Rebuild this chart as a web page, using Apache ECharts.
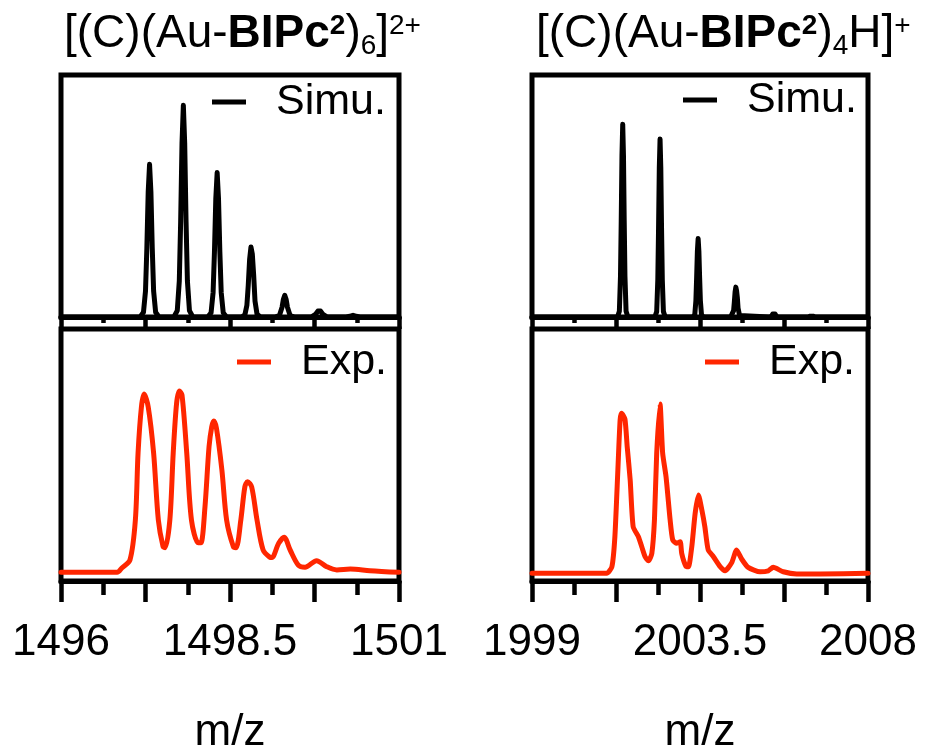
<!DOCTYPE html>
<html>
<head>
<meta charset="utf-8">
<script src="https://cdn.jsdelivr.net/npm/echarts@6/dist/echarts.min.js"></script>
<style>
html,body{margin:0;padding:0;background:#fff;}
#chart{width:925px;height:751px;}
</style>
</head>
<body>
<div id="chart"></div>
<script>
// ---------- data ----------
// Left: [(C)(Au-BIPc2)6]2+  (simulated)
const simLeftMz = [1496.00,
  1497.17,1497.22,1497.25,1497.27,1497.29,1497.31,1497.33,1497.35,1497.37,1497.40,1497.45,
  1497.67,1497.72,1497.75,1497.77,1497.79,1497.81,1497.83,1497.85,1497.87,1497.90,1497.95,
  1498.17,1498.22,1498.25,1498.27,1498.29,1498.31,1498.33,1498.35,1498.37,1498.40,1498.45,
  1498.67,1498.72,1498.75,1498.77,1498.79,1498.81,1498.83,1498.85,1498.87,1498.90,1498.95,
  1499.17,1499.23,1499.27,1499.29,1499.31,1499.33,1499.35,1499.39,1499.45,
  1499.70,1499.77,1499.80,1499.82,1499.84,1499.87,1499.94,
  1500.22,1500.29,1500.32,1500.35,1500.42,
  1501.00];
const simLeftInt = [0,
  0,2.2,12.3,32.4,59.1,72.1,59.1,32.4,12.3,2.2,0,
  0,3,17,45,82,100,82,45,17,3,0,
  0,2,11.6,30.7,55.9,68.2,55.9,30.7,11.6,2,0,
  0,1,5.6,14.9,27.1,33.1,29.8,19.9,7.5,1.3,0,
  0,0.6,4.6,8.4,10.2,8.4,4.6,0.6,0,
  0,1.4,2.8,3.2,2.8,1.4,0,
  0,0.5,0.8,0.5,0,
  0];
// Left: experimental
const expLeftMz = [1496.00,1496.83,1496.90,1497.02,1497.10,1497.14,1497.19,1497.23,1497.29,1497.37,
  1497.44,1497.51,1497.54,1497.61,1497.66,1497.71,1497.75,1497.79,1497.86,1497.93,
  1498.03,1498.07,1498.13,1498.19,1498.23,1498.26,1498.30,1498.38,1498.45,1498.55,
  1498.59,1498.66,1498.72,1498.76,1498.82,1498.90,1498.99,1499.09,1499.12,1499.22,
  1499.30,1499.39,1499.51,1499.61,1499.78,1499.93,1500.08,1500.28,1500.57,1501.00];
const expLeftInt = [0,0,2.4,6.8,28.8,65.8,91.3,98.3,91.3,65.8,
  28.8,14.1,13.6,28.8,65.8,93.2,100,97.8,65.8,28.8,
  16.3,16.3,36.2,69.3,80.3,83.5,79.4,56.4,28.8,14.1,
  13.6,28.8,47.2,50.0,47.2,28.8,12.3,8.3,8.1,16.0,
  19.3,12.3,4.0,2.8,6.4,3.1,1.3,1.8,0.9,0];

// Right: [(C)(Au-BIPc2)4H]+  (simulated)
const simRightMz = [1999.00,
  2001.29,2001.34,2001.37,2001.39,2001.41,2001.43,2001.45,2001.47,2001.49,2001.52,2001.57,
  2002.29,2002.34,2002.37,2002.39,2002.41,2002.43,2002.45,2002.47,2002.49,2002.52,2002.57,
  2003.31,2003.36,2003.39,2003.41,2003.43,2003.45,2003.47,2003.49,2003.51,2003.54,2003.59,
  2004.32,2004.37,2004.40,2004.42,2004.44,2004.46,2004.48,2004.50,2004.52,2004.56,2004.61,
  2005.36,2005.42,2005.45,2005.48,2005.51,2005.54,2005.60,
  2006.39,2006.45,2006.49,2006.53,2006.59,
  2008.00];
const simRightInt = [0,
  0,3,21,50,84,100,84,50,21,3,0,
  0,2.8,19.4,46.2,77.6,92.4,77.6,46.2,19.4,2.8,0,
  0,1.2,8.5,20.4,34.2,40.7,34.2,20.4,8.5,1.2,0,
  0,0.5,3.3,7.8,13,15.5,13.6,10.1,4.5,0.8,0,
  0,0.5,1.6,2.6,1.6,0.5,0,
  0,0.4,0.8,0.4,0,
  0];
// Right: experimental
const expRightMz = [1999.00,2001.00,2001.14,2001.22,2001.30,2001.36,2001.40,2001.49,2001.55,2001.63,
  2001.71,2001.85,2001.94,2002.03,2002.12,2002.21,2002.28,2002.34,2002.43,2002.50,
  2002.59,2002.70,2002.77,2002.88,2002.97,2003.01,2003.12,2003.19,2003.28,2003.37,
  2003.46,2003.55,2003.63,2003.72,2003.86,2004.04,2004.17,2004.35,2004.48,2004.62,
  2004.79,2005.11,2005.33,2005.46,2005.73,2006.09,2006.72,2008.00];
const expRightInt = [0,0,3.9,21.6,61.0,90.5,94.5,91.0,74.8,55.1,
  27.5,21.6,15.7,9.8,7.4,11.8,31.5,70.9,100,70.9,
  57.1,31.5,19.7,17.7,18.7,11.8,4.3,3.9,15.7,35.4,
  46.2,37.4,27.5,13.8,9.8,3.9,1.5,6.3,13.8,8.3,
  3.5,0.9,1.5,3.5,0.9,-0.4,-0.4,0];

// axis ticks / labels
const leftRange = [1496, 1501];
const leftMajorTicks = [1496, 1497.25, 1498.5, 1499.75, 1501];
const leftMinorTicks = [1496.625, 1497.875, 1499.125, 1500.375];
const leftLabels = [1496, 1498.5, 1501];
const rightRange = [1999, 2008];
const rightMajorTicks = [1999, 2001.25, 2003.5, 2005.75, 2008];
const rightMinorTicks = [2000.125, 2002.375, 2004.625, 2006.875];
const rightLabels = [1999, 2003.5, 2008];

const seriesNames = ['Simu.', 'Exp.'];
const axisName = 'm/z';

// ---------- chart ----------
const FONT = 'Liberation Sans, Arial, Helvetica, sans-serif';
const BLACK = '#000000';
const RED = '#ff2600';
const LW = 5;
const pair = (xs, ys) => xs.map((x, i) => [x, ys[i]]);

const grids = [
  {left: 61, top: 75, width: 338, height: 242},   // 0 top-left
  {left: 61, top: 329, width: 338, height: 252},  // 1 bottom-left
  {left: 532, top: 75, width: 336, height: 242},  // 2 top-right
  {left: 532, top: 329, width: 336, height: 252}  // 3 bottom-right
].map(g => Object.assign(g, {show: true, borderColor: BLACK, borderWidth: LW,
  containLabel: false, outerBoundsMode: 'none'}));

function majorAxis(gridIndex, range, ticks, labels, len, showLabels) {
  return {
    type: 'value', gridIndex, position: 'bottom', min: range[0], max: range[1],
    axisLine: {show: true, onZero: false, lineStyle: {color: BLACK, width: LW}},
    axisTick: {show: true, inside: false, length: len, customValues: ticks, lineStyle: {color: BLACK, width: 4.5}},
    axisLabel: showLabels ? {
      show: true, customValues: labels, margin: 40, fontSize: 44, lineHeight: 44,
      fontFamily: FONT, color: BLACK,
      formatter: v => String(v)
    } : {show: false},
    splitLine: {show: false},
    name: showLabels ? axisName : '',
    nameLocation: 'middle', nameGap: 130,
    nameTextStyle: {fontSize: 44, lineHeight: 44, fontFamily: FONT, color: BLACK}
  };
}
function minorAxis(gridIndex, range, ticks, len) {
  return {
    type: 'value', gridIndex, position: 'bottom', min: range[0], max: range[1],
    axisLine: {show: false, onZero: false},
    axisTick: {show: true, inside: false, length: len, customValues: ticks, lineStyle: {color: BLACK, width: 4.5}},
    axisLabel: {show: false},
    splitLine: {show: false}
  };
}

const xAxes = [
  majorAxis(0, leftRange, leftMajorTicks, leftLabels, 12, false),   // 0
  minorAxis(0, leftRange, leftMinorTicks, 6),                        // 1
  majorAxis(1, leftRange, leftMajorTicks, leftLabels, 21, true),    // 2
  minorAxis(1, leftRange, leftMinorTicks, 14),                       // 3
  majorAxis(2, rightRange, rightMajorTicks, rightLabels, 12, false),// 4
  minorAxis(2, rightRange, rightMinorTicks, 6),                      // 5
  majorAxis(3, rightRange, rightMajorTicks, rightLabels, 21, true), // 6
  minorAxis(3, rightRange, rightMinorTicks, 14)                      // 7
];

const yAxes = [
  {type: 'value', gridIndex: 0, min: 0, max: 114.3, show: false, splitLine: {show: false}},
  {type: 'value', gridIndex: 1, min: -4.8, max: 134.2, show: false, splitLine: {show: false}},
  {type: 'value', gridIndex: 2, min: 0, max: 125.6, show: false, splitLine: {show: false}},
  {type: 'value', gridIndex: 3, min: -4.55, max: 144.3, show: false, splitLine: {show: false}}
];

function lineSeries(name, xi, yi, data, color, smooth) {
  return {
    name, type: 'line', xAxisIndex: xi, yAxisIndex: yi, data,
    showSymbol: false, symbol: 'none', smooth,
    lineStyle: {color, width: LW, join: 'round', cap: 'round'},
    itemStyle: {color}, clip: true, silent: true
  };
}

const series = [
  lineSeries(seriesNames[0], 0, 0, pair(simLeftMz, simLeftInt), BLACK, false),
  lineSeries(seriesNames[1], 2, 1, pair(expLeftMz, expLeftInt), RED, 0.3),
  lineSeries(seriesNames[0], 4, 2, pair(simRightMz, simRightInt), BLACK, false),
  lineSeries(seriesNames[1], 6, 3, pair(expRightMz, expRightInt), RED, 0.2)
];

function legend(name, left, top) {
  return {
    data: [name], left, top, padding: 0, orient: 'horizontal',
    icon: 'rect', itemWidth: 34, itemHeight: 5, selectedMode: false,
    textStyle: {fontSize: 43, lineHeight: 44, fontFamily: FONT, color: BLACK, padding: [0, 0, 0, 25]}
  };
}

const richTitle = {
  n: {fontSize: 46, lineHeight: 52, fontFamily: FONT, color: BLACK, fontWeight: 'normal'},
  b: {fontSize: 46, lineHeight: 52, fontFamily: FONT, color: BLACK, fontWeight: 'bold'},
  bs: {fontSize: 28, lineHeight: 52, fontFamily: FONT, color: BLACK, fontWeight: 'bold', verticalAlign: 'top', padding: [4, 0, 0, 0]},
  sup: {fontSize: 28, lineHeight: 52, fontFamily: FONT, color: BLACK, fontWeight: 'normal', verticalAlign: 'top', padding: [4, 0, 0, 0]},
  sub: {fontSize: 28, lineHeight: 52, fontFamily: FONT, color: BLACK, fontWeight: 'normal', verticalAlign: 'bottom', padding: [0, 0, 0, 0]}
};

const option = {
  animation: false,
  backgroundColor: '#ffffff',
  title: [
    {text: '{n|[(C)(Au-}{b|BIPc}{bs|2}{n|)}{sub|6}{n|]}{sup|2+}', left: 64, top: 8, padding: 0,
     textStyle: {rich: richTitle, fontSize: 46, fontFamily: FONT}},
    {text: '{n|[(C)(Au-}{b|BIPc}{bs|2}{n|)}{sub|4}{n|H]}{sup|+}', left: 536, top: 8, padding: 0,
     textStyle: {rich: richTitle, fontSize: 46, fontFamily: FONT}}
  ],
  legend: [
    legend(seriesNames[0], 212, 80),
    legend(seriesNames[1], 237, 340),
    legend(seriesNames[0], 683, 78),
    legend(seriesNames[1], 705, 340)
  ],
  grid: grids,
  xAxis: xAxes,
  yAxis: yAxes,
  series
};

const chart = echarts.init(document.getElementById('chart'), null, {renderer: 'canvas'});
chart.setOption(option);
</script>
</body>
</html>
